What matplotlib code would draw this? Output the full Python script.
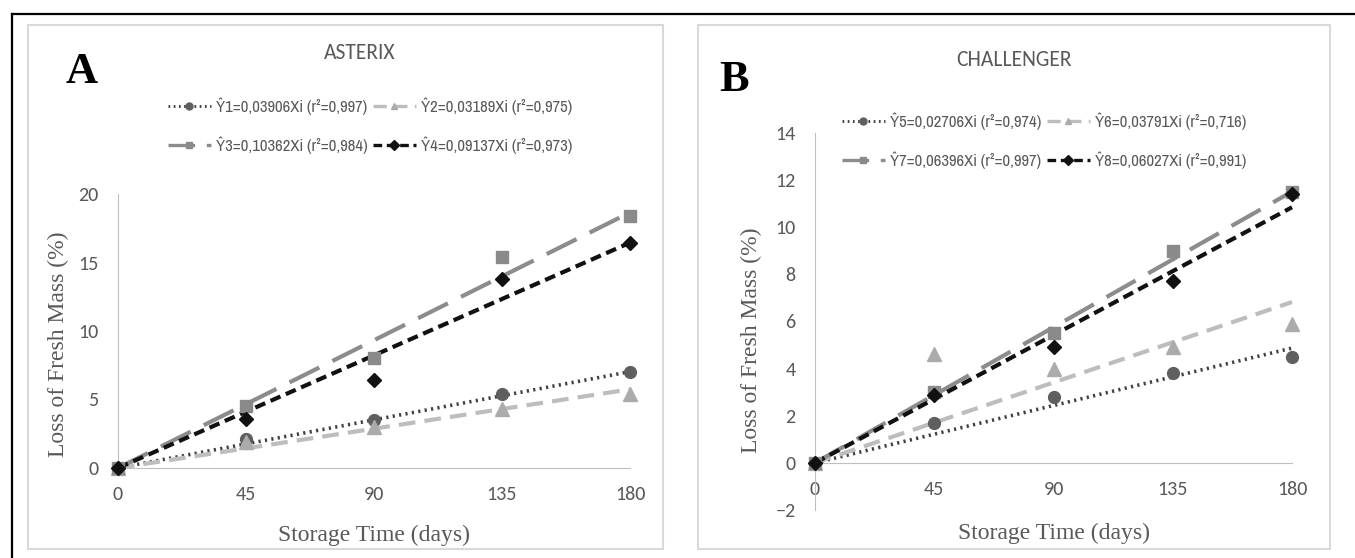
import matplotlib
matplotlib.use("Agg")
import matplotlib.pyplot as plt
from matplotlib import font_manager
from matplotlib.lines import Line2D
from matplotlib.patches import Rectangle

# storage days
days = [0, 45, 90, 135, 180]

# ASTERIX (panel A)
a_y1 = [0, 2.1, 3.5, 5.4, 7.0]
a_y2 = [0, 1.9, 3.0, 4.3, 5.4]
a_y3 = [0, 4.5, 8.0, 15.4, 18.4]
a_y4 = [0, 3.6, 6.4, 13.8, 16.4]
a_slopes = [0.03906, 0.03189, 0.10362, 0.09137]
a_labels = ["Ŷ1=0,03906Xi (r²=0,997)", "Ŷ2=0,03189Xi (r²=0,975)",
            "Ŷ3=0,10362Xi (r²=0,984)", "Ŷ4=0,09137Xi (r²=0,973)"]

# CHALLENGER (panel B)
b_y5 = [0, 1.7, 2.8, 3.8, 4.5]
b_y6 = [0, 4.6, 4.0, 4.9, 5.9]
b_y7 = [0, 3.0, 5.5, 9.0, 11.5]
b_y8 = [0, 2.9, 4.9, 7.7, 11.4]
b_slopes = [0.02706, 0.03791, 0.06396, 0.06027]
b_labels = ["Ŷ5=0,02706Xi (r²=0,974)", "Ŷ6=0,03791Xi (r²=0,716)",
            "Ŷ7=0,06396Xi (r²=0,997)", "Ŷ8=0,06027Xi (r²=0,991)"]

W, H = 1355, 558
TXT = "#595959"
AXC = "#BFBFBF"

installed = set(f.name for f in font_manager.fontManager.ttflist)


def pick(*names):
    for n in names:
        if n in installed:
            return n
    return "DejaVu Sans"


SANS = pick("Carlito", "Calibri", "Lato", "Open Sans")
NARROW = pick("Liberation Sans Narrow", "Archivo Narrow", "Roboto Condensed",
              "Open Sans Condensed", "Asap Condensed", "Roboto")
SERIF = pick("Liberation Serif", "Tinos", "DejaVu Serif")

# marker style, line style for each of the four series
styles = [
    dict(marker="o", mc="#5f5f5f", ms=8.5, lc="#404040", lw=2.6, ls=(0, (0.6, 1.2))),
    dict(marker="^", mc="#ababab", ms=9.5, lc="#bdbdbd", lw=3.0, ls=(0, (4, 2.2))),
    dict(marker="s", mc="#8a8a8a", ms=8.5, lc="#8c8c8c", lw=3.0, ls=(0, (8, 3.5))),
    dict(marker="D", mc="#111111", ms=7.5, lc="#111111", lw=3.0, ls=(0, (2.6, 1.4))),
]


def fx(x):
    return x / W


def fy(y):
    return 1 - y / H


fig = plt.figure(figsize=(W / 100, H / 100), dpi=100)

# outer black frame (top and left) and grey panel boxes
fig.add_artist(Line2D([fx(12), 1], [fy(14), fy(14)], color="black", lw=1.6, transform=fig.transFigure))
fig.add_artist(Line2D([fx(12), fx(12)], [fy(14), 0], color="black", lw=1.6, transform=fig.transFigure))
for x0, x1 in [(28, 663), (698, 1330)]:
    fig.add_artist(Rectangle((fx(x0), fy(549)), fx(x1 - x0), (549 - 25) / H,
                             transform=fig.transFigure, fill=False, ec="#d9d9d9", lw=1.5))


def panel(rect, series, slopes, labels, ylim, yticks, title, tpos, letter, lpos,
          legpos, ylab_x, xlab_y):
    ax = fig.add_axes(rect)
    ax.set_xlim(0, 180)
    ax.set_ylim(*ylim)
    ax.set_facecolor("none")
    for s in ["top", "right"]:
        ax.spines[s].set_visible(False)
    ax.spines["left"].set_color(AXC)
    ax.spines["bottom"].set_color(AXC)
    ax.spines["bottom"].set_position(("data", 0))
    ax.set_xticks(days)
    ax.set_yticks(yticks)
    ax.tick_params(length=0, labelsize=14.5, labelcolor=TXT)
    ax.tick_params(axis="x", pad=13)
    ax.tick_params(axis="y", pad=14)
    for lab in ax.get_xticklabels() + ax.get_yticklabels():
        lab.set_fontfamily(SANS)

    handles = []
    for vals, k, st in zip(series, slopes, styles):
        ax.plot([0, 180], [0, 180 * k], color=st["lc"], lw=st["lw"], ls=st["ls"],
                zorder=2, clip_on=False)
        ax.plot(days, vals, ls="none", marker=st["marker"], color=st["mc"],
                ms=st["ms"], zorder=3, clip_on=False)
        handles.append(Line2D([], [], color=st["lc"], lw=st["lw"] * 0.8, ls=st["ls"],
                              marker=st["marker"], mfc=st["mc"], mec=st["mc"], ms=5))

    order = [0, 2, 1, 3]
    fig.legend([handles[i] for i in order], [labels[i] for i in order], ncol=2,
               loc="center", bbox_to_anchor=(fx(legpos[0]), fy(legpos[1])),
               frameon=False, handlelength=2.6, handletextpad=0.3, columnspacing=0.3,
               labelspacing=1.3, labelcolor=TXT,
               prop=dict(family=[NARROW, "DejaVu Sans"], size=12))

    fig.text(fx(tpos[0]), fy(tpos[1]), title, ha="center", va="center",
             fontsize=15.5, color=TXT, family=SANS)
    fig.text(fx(lpos[0]), fy(lpos[1]), letter, ha="center", va="center",
             fontsize=32, fontweight="bold", color="black", family=SERIF)
    ax.text(ylab_x, 0.45, "Loss of Fresh Mass (%)", transform=ax.transAxes, rotation=90,
            ha="center", va="center", fontsize=17, color=TXT, family=SERIF)
    ax.text(0.5, xlab_y, "Storage Time (days)", transform=ax.transAxes,
            ha="center", va="center", fontsize=17, color=TXT, family=SERIF)
    return ax


panel([fx(118), fy(468), (630 - 118) / W, (468 - 194) / H],
      [a_y1, a_y2, a_y3, a_y4], a_slopes, a_labels, (0, 20), [0, 5, 10, 15, 20],
      "ASTERIX", (360, 53), "A", (82, 72), (370, 126), -0.117, -0.245)

panel([fx(815), fy(510), (1292 - 815) / W, (510 - 133) / H],
      [b_y5, b_y6, b_y7, b_y8], b_slopes, b_labels, (-2, 14), list(range(-2, 15, 2)),
      "CHALLENGER", (1014, 60), "B", (734, 80), (1044, 141), -0.134, -0.061)

fig.savefig("out.png", dpi=100)
